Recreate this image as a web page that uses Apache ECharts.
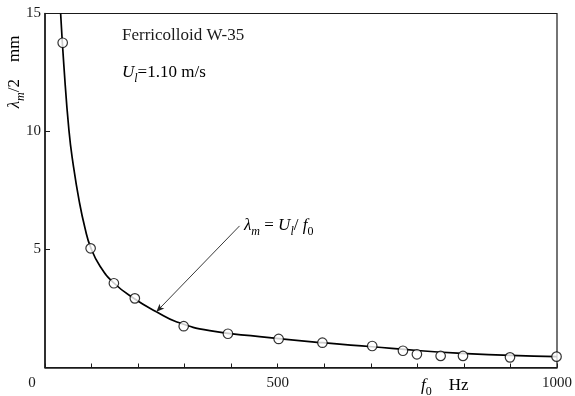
<!DOCTYPE html>
<html><head><meta charset="utf-8">
<script src="https://cdn.jsdelivr.net/npm/echarts@6/dist/echarts.min.js"></script>
<style>html,body{margin:0;padding:0;background:#fff}#c{width:575px;height:396px}</style>
</head><body><div id="c"></div>
<script>
// Tick labels (x axis physically runs to 1100, last tick printed "1000" as in the source figure)
const xTickLabels = {0: '0', 500: '500', 1100: '1000'};
const yTickLabels = {5: '5', 10: '10', 15: '15'};

// Measured points: frequency f0 (Hz) and half wavelength (mm)
const freqObs     = [38, 98, 148, 193, 298, 393, 502, 596, 703, 769, 799, 850, 898, 999, 1099];
const halfWaveObs = [13.76, 5.05, 3.57, 2.93, 1.75, 1.43, 1.21, 1.05, 0.91, 0.71, 0.56, 0.49, 0.49, 0.43, 0.46];

// Curve lambda_m = U_l / f0
const freqCurve     = [33.6, 40.7, 51.4, 60.6, 73.5, 86, 97.9, 118, 148.5, 193, 239.3, 282, 354, 461, 596, 703, 800, 898, 1000, 1100];
const halfWaveCurve = [15.0, 12.75, 10.06, 8.6, 7.05, 5.9, 5.1, 4.3, 3.57, 2.9, 2.36, 1.94, 1.56, 1.31, 1.05, 0.88, 0.72, 0.60, 0.51, 0.46];

// Annotation arrow (data coords)
const arrowFrom = [418, 6.0];
const arrowTo = [239.3, 2.36];

const serif = '"Liberation Serif","Times New Roman",serif';
const ink = '#1a1a1a';
const richMath = function (size) {
  return {
    n: {fontFamily: serif, fontSize: size, color: ink, lineHeight: 24, verticalAlign: 'middle'},
    i: {fontFamily: serif, fontSize: size, fontStyle: 'italic', color: ink, lineHeight: 24, verticalAlign: 'middle'},
    s: {fontFamily: serif, fontSize: Math.round(size * 0.7), fontStyle: 'italic', color: ink, lineHeight: 12, verticalAlign: 'bottom'},
    u: {fontFamily: serif, fontSize: Math.round(size * 0.7), color: ink, lineHeight: 12, verticalAlign: 'bottom'}
  };
};

const chart = echarts.init(document.getElementById('c'));
chart.setOption({
  animation: false,
  backgroundColor: '#fff',
  grid: {left: 45, right: 17, top: 13.5, bottom: 28.5, show: true, borderColor: ink, borderWidth: 1.2, backgroundColor: 'transparent'},
  xAxis: {
    type: 'value', min: 0, max: 1100, interval: 100,
    axisLine: {show: true, onZero: false, lineStyle: {color: ink, width: 1.5}},
    axisTick: {show: true, inside: true, length: 4, lineStyle: {color: ink, width: 1}},
    splitLine: {show: false},
    axisLabel: {
      margin: 8, color: ink, fontFamily: serif, fontSize: 15,
      showMinLabel: true, showMaxLabel: true, hideOverlap: false,
      formatter: function (v) { return v === 0 ? '{z|0}' : (xTickLabels[v] || ''); },
      rich: {z: {fontFamily: serif, fontSize: 15, color: ink, padding: [0, 26, 0, 0]}}
    }
  },
  yAxis: {
    type: 'value', min: 0, max: 15, interval: 5,
    axisLine: {show: true, onZero: false, lineStyle: {color: ink, width: 1.5}},
    axisTick: {show: true, inside: true, length: 5, lineStyle: {color: ink, width: 1}},
    splitLine: {show: false},
    axisLabel: {
      margin: 4, color: ink, fontFamily: serif, fontSize: 15,
      formatter: function (v) { return yTickLabels[v] || ''; }
    }
  },
  series: [
    {
      type: 'line',
      data: freqCurve.map(function (f, i) { return [f, halfWaveCurve[i]]; }),
      smooth: 0.5, symbol: 'none', clip: true,
      lineStyle: {color: '#000', width: 1.7},
      z: 2,
      markLine: {
        silent: true, animation: false,
        symbol: ['none', 'arrow'], symbolSize: [5, 8],
        lineStyle: {color: '#222', width: 0.9, type: 'solid'},
        label: {show: false},
        emphasis: {disabled: true},
        data: [[{coord: arrowFrom}, {coord: arrowTo}]]
      }
    },
    {
      type: 'scatter',
      data: freqObs.map(function (f, i) { return [f, halfWaveObs[i]]; }),
      symbol: 'circle', symbolSize: 9.5,
      itemStyle: {color: '#fff', borderColor: '#000', borderWidth: 1.2},
      z: 3
    }
  ],
  graphic: [
    {type: 'text', x: 122, y: 35.5, style: {text: 'Ferricolloid W-35', font: '17px ' + serif, fill: ink, verticalAlign: 'middle'}},
    {type: 'text', x: 122, y: 72.5, style: {text: '{i|U}{s|l}{n|=1.10 m/s}', rich: richMath(17), verticalAlign: 'middle'}},
    {type: 'text', x: 244, y: 226, style: {text: '{i|λ}{s|m}{n| = }{i|U}{s|l}{n|/ }{i|f}{u|0}', rich: richMath(17), verticalAlign: 'middle'}},
    {type: 'text', x: 421, y: 386, style: {text: '{i|f}{u|0}{n|    Hz}', rich: richMath(17), verticalAlign: 'middle'}},
    {type: 'text', x: 15, y: 72, rotation: Math.PI / 2, style: {text: '{i|λ}{s|m}{n|/2    mm}', rich: richMath(17), align: 'center', verticalAlign: 'middle'}}
  ]
});
</script></body></html>
